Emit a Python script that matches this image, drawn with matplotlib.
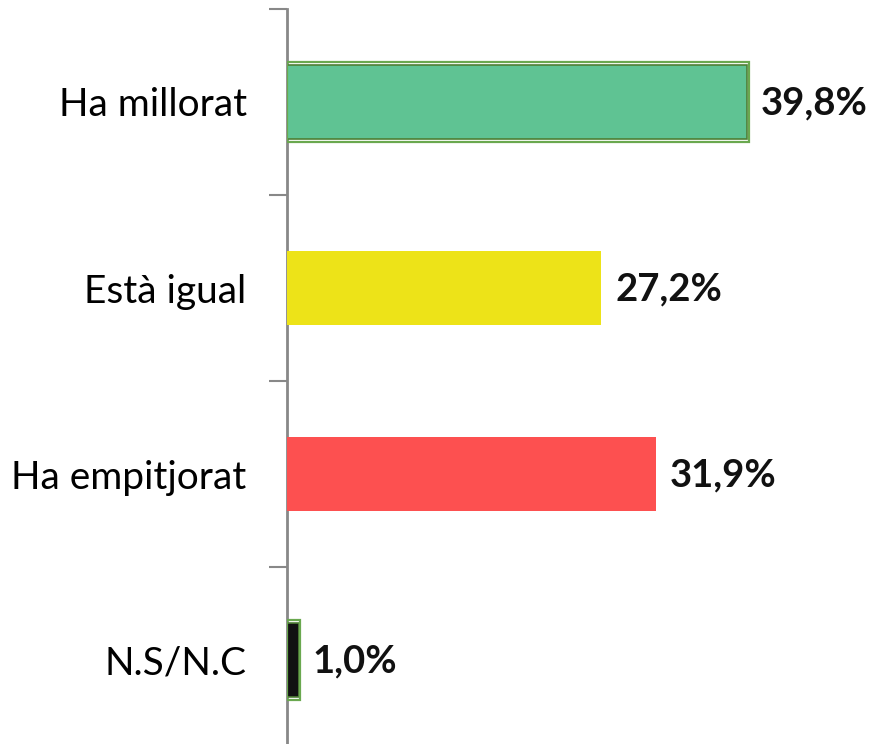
import matplotlib.pyplot as plt

plt.rcParams['font.family'] = ['Lato', 'DejaVu Sans']

categories = ['Ha millorat', 'Està igual', 'Ha empitjorat', 'N.S/N.C']
values = [39.8, 27.2, 31.9, 1.0]
value_labels = ['39,8%', '27,2%', '31,9%', '1,0%']
colors = ['#5fc393', '#ede318', '#fd5050', '#111111']
outlined = [True, False, False, True]

fig = plt.figure(figsize=(8.74, 7.44), dpi=100)
ax = fig.add_axes([287 / 874, -9 / 744, 578 / 874, 744 / 744])

pos = list(range(len(categories)))
for i, (v, c, o) in enumerate(zip(values, colors, outlined)):
    if o:
        ax.barh(i, v, height=0.40, color=c, edgecolor='#4e7f35', linewidth=1.2, zorder=3)
        ax.barh(i, v + 0.15, height=0.425, color='none', edgecolor='#6aa84f',
                linewidth=1.6, zorder=3)
    else:
        ax.barh(i, v, height=0.40, color=c, zorder=3)
    ax.annotate(value_labels[i], (v, i), xytext=(10, -1), textcoords='offset points',
                va='center', ha='left', fontsize=27.5, fontweight='bold', color='#111111')

ax.set_xlim(0, 50)
ax.set_ylim(len(categories) - 0.5, -0.5)
ax.set_yticks([p + 0.5 for p in [-1] + pos])
ax.set_yticklabels([])
ax.set_yticks(pos, minor=True)
ax.set_yticklabels(categories, minor=True, fontsize=28)
ax.tick_params(axis='y', which='minor', length=0, pad=29)
ax.tick_params(axis='y', which='major', length=13, width=1.5, color='#888888')
ax.set_xticks([])
for s in ['top', 'right', 'bottom']:
    ax.spines[s].set_visible(False)
ax.spines['left'].set_color('#888888')
ax.spines['left'].set_linewidth(2)

fig.savefig('out.png', dpi=100)
